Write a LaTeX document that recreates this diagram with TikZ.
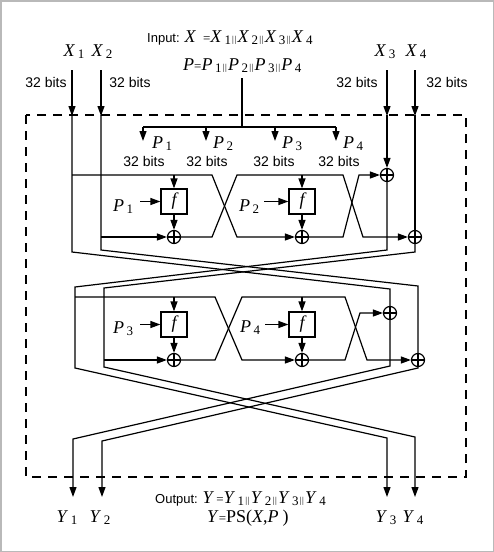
\documentclass[tikz,border=0pt]{standalone}
\usepackage{fontspec}
\setmainfont{Liberation Serif}
\setsansfont{Liberation Sans}
\usetikzlibrary{arrows.meta,positioning,calc}
\newcommand{\sub}[2]{\textit{#1}\kern2.5pt\raisebox{-2.5pt}{\fontsize{13}{13}\selectfont #2}}
\newcommand{\cat}{{\fontsize{9}{9}\selectfont\kern1.2pt|\kern0.6pt|\kern1.2pt}}
\tikzset{
  wire/.style={line width=1.2pt, line join=miter},
  arr/.style={wire, -{Triangle[length=10pt,width=7pt]}},
  fbox/.style={draw, line width=1.2pt, minimum width=26pt, minimum height=25pt, inner sep=0pt, font=\fontsize{18}{18}\selectfont\itshape},
  xorgate/.style={draw, circle, line width=1.2pt, minimum size=13pt, inner sep=0pt,
    path picture={\draw[line width=1.2pt] (path picture bounding box.north) -- (path picture bounding box.south)
      (path picture bounding box.west) -- (path picture bounding box.east);}},
  bitlbl/.style={font=\sffamily\fontsize{14}{14}\selectfont, inner sep=0pt, anchor=base},
  varlbl/.style={font=\fontsize{18}{18}\selectfont, inner sep=0pt, anchor=base},
  boundary/.style={line width=1.2pt, dash pattern=on 9pt off 7pt}
}
\begin{document}
\begin{tikzpicture}[x=1pt,y=-1pt]
  \useasboundingbox (0,0) rectangle (494,552);
  \draw[gray!55, line width=1.5pt] (0.75,0.75) rectangle (493.25,551.25);

  % headings
  \node[varlbl, anchor=base west] (inp) at (147,42) {{\sffamily\fontsize{13}{13}\selectfont Input: }\textit{X}\kern7pt{\fontsize{13}{13}\selectfont =}\sub{X}{1}\cat\sub{X}{2}\cat\sub{X}{3}\cat\sub{X}{4}};
  \node[varlbl, anchor=base west] (pdef) at (183,70) {\textit{P}{\fontsize{13}{13}\selectfont =}\sub{P}{1}\cat\sub{P}{2}\cat\sub{P}{3}\cat\sub{P}{4}};

  % inputs
  \node[varlbl] (lx1) at (74,56) {\sub{X}{1}};
  \node[varlbl] (lx2) at (102,56) {\sub{X}{2}};
  \node[varlbl] (lx3) at (385,56) {\sub{X}{3}};
  \node[varlbl] (lx4) at (416,56) {\sub{X}{4}};
  \node[bitlbl] (bx1) at (46,87) {32 bits};
  \node[bitlbl] (bx2) at (130,87) {32 bits};
  \node[bitlbl] (bx3) at (357,87) {32 bits};
  \node[bitlbl] (bx4) at (447,87) {32 bits};
  \foreach \xx in {72,101,387,415}
    \draw[arr] (\xx,70) -- (\xx,116);

  \draw[boundary] (26,115) rectangle (466,477);

  % key distribution
  \coordinate (pbus) at (242,127);
  \draw[wire] (242,78) -- (pbus);
  \draw[wire] (143,127) -- (336,127);
  \foreach \xx in {143,206,275,336}
    \draw[arr] (\xx,127) -- (\xx,141);
  \node[varlbl, anchor=base west] (kp1) at (152,148) {\sub{P}{1}};
  \node[varlbl, anchor=base west] (kp2) at (213,148) {\sub{P}{2}};
  \node[varlbl, anchor=base west] (kp3) at (282,148) {\sub{P}{3}};
  \node[varlbl, anchor=base west] (kp4) at (343,148) {\sub{P}{4}};
  \foreach \xx in {144,207,274,339}
    \node[bitlbl] at (\xx,166) {32 bits};

  % round 1
  \node[fbox] (f1) at (174,201.5) {f};
  \node[fbox] (f2) at (302,201.5) {f};
  \node[xorgate] (xo1) at (174,237) {};
  \node[xorgate] (xo2) at (302,237) {};
  \node[xorgate] (xo3) at (387,175) {};
  \node[xorgate] (xo4) at (415,237) {};
  \node[varlbl, anchor=base west] (p1) at (113,211) {\sub{P}{1}};
  \node[varlbl, anchor=base west] (p2) at (239,211) {\sub{P}{2}};

  \draw[arr] (387,115) -- (xo3.north);
  \draw[wire] (415,115) -- (xo4.north);
  \draw[arr] (72,175) -- (212,175) -- (237,237) -- (xo2.west);
  \draw[arr] (101,237) -- (xo1.west);
  \draw[arr] (xo1.east) -- (212,237) -- (237,175) -- (343,175) -- (363,237) -- (xo4.west);
  \draw[arr] (xo2.east) -- (343,237) -- (359,175) -- (xo3.west);
  \draw[arr] (174,175) -- (f1.north);
  \draw[arr] (f1.south) -- (xo1.north);
  \draw[arr] (302,175) -- (f2.north);
  \draw[arr] (f2.south) -- (xo2.north);
  \draw[arr, shorten <=7pt] (p1.east |- f1.west) -- (f1.west);
  \draw[arr, shorten <=5pt] (p2.east |- f2.west) -- (f2.west);

  % round 2
  \node[fbox] (f3) at (174,324.5) {f};
  \node[fbox] (f4) at (302,324.5) {f};
  \node[xorgate] (xo5) at (174,360) {};
  \node[xorgate] (xo6) at (302,360) {};
  \node[xorgate] (xo7) at (390,313) {};
  \node[xorgate] (xo8) at (418,360) {};
  \node[varlbl, anchor=base west] (p3) at (113,333) {\sub{P}{3}};
  \node[varlbl, anchor=base west] (p4) at (240,332) {\sub{P}{4}};

  \draw[arr] (75,297) -- (215,297) -- (242,360) -- (xo6.west);
  \draw[arr] (104,360) -- (xo5.west);
  \draw[arr] (xo5.east) -- (215,360) -- (242,297) -- (345,297) -- (367,360) -- (xo8.west);
  \draw[arr] (xo6.east) -- (345,360) -- (360,313) -- (xo7.west);
  \draw[arr] (174,297) -- (f3.north);
  \draw[arr] (f3.south) -- (xo5.north);
  \draw[arr] (302,297) -- (f4.north);
  \draw[arr] (f4.south) -- (xo6.north);
  \draw[arr, shorten <=7pt] (p3.east |- f3.west) -- (f3.west);
  \draw[arr, shorten <=5pt] (p4.east |- f4.west) -- (f4.west);

  % crossings between the rounds and to the outputs
  \draw[wire] (72,115) -- (72,252) -- (390,289) -- (xo7.north);
  \draw[wire] (101,115) -- (101,250) -- (418,286) -- (xo8.north);
  \draw[arr] (xo3.south) -- (387,250) -- (75,287) -- (75,368) -- (387,438) -- (387,497);
  \draw[arr] (xo4.south) -- (415,252) -- (104,288) -- (104,367) -- (415,437) -- (415,497);
  \draw[arr] (xo7.south) -- (390,366) -- (73,439) -- (73,497);
  \draw[arr] (xo8.south) -- (418,368) -- (102,441) -- (102,497);

  % outputs
  \node[varlbl] (ly1) at (67,522) {\sub{Y}{1}};
  \node[varlbl] (ly2) at (100,522) {\sub{Y}{2}};
  \node[varlbl] (ly3) at (386,522) {\sub{Y}{3}};
  \node[varlbl] (ly4) at (413,522) {\sub{Y}{4}};
  \node[varlbl, anchor=base west] (outp) at (155,503) {{\sffamily\fontsize{13}{13}\selectfont Output: }\textit{Y}\kern2pt{\fontsize{13}{13}\selectfont =}\sub{Y}{1}\cat\sub{Y}{2}\cat\sub{Y}{3}\cat\sub{Y}{4}};
  \node[varlbl, anchor=base west] (ydef) at (207,522) {\textit{Y}{\fontsize{13}{13}\selectfont =}PS(\textit{X},\textit{P}\kern4pt)};
\end{tikzpicture}
\end{document}
